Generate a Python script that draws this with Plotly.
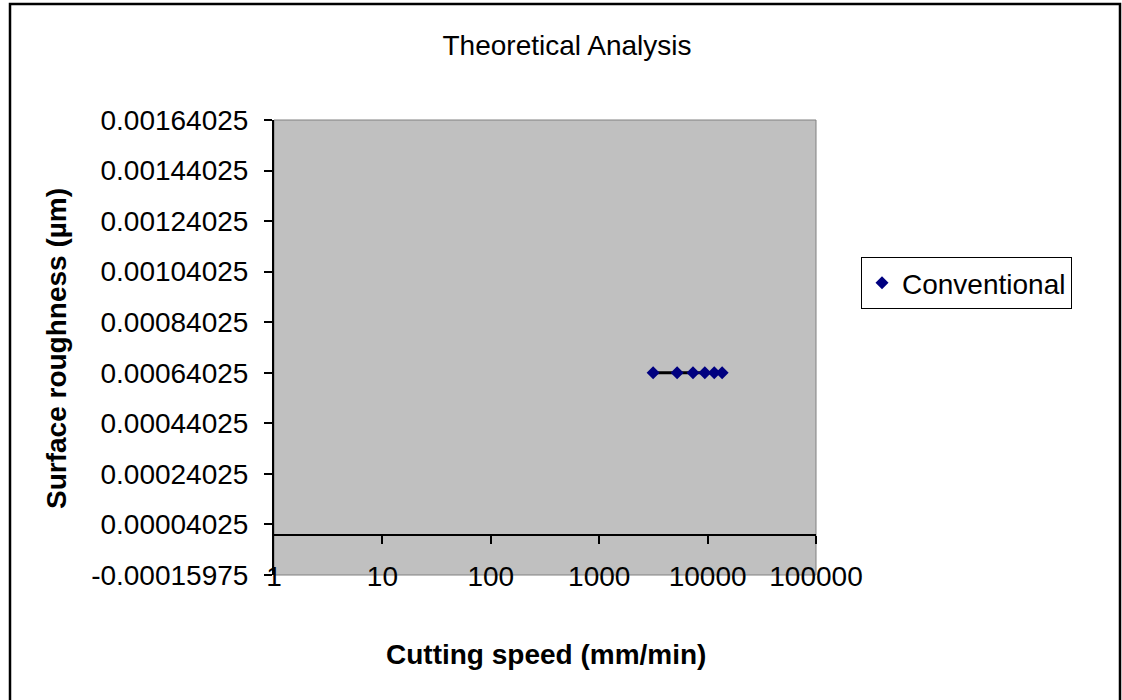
import plotly.graph_objects as go

# ---- data ----
cutting_speed = [3142, 5236, 7330, 9425, 11519, 13614]
roughness = [0.00064025, 0.00064025, 0.00064025, 0.00064025, 0.00064025, 0.00064025]
series_name = "Conventional"

y_tickvals = [-0.00015975, 0.00004025, 0.00024025, 0.00044025, 0.00064025,
              0.00084025, 0.00104025, 0.00124025, 0.00144025, 0.00164025]
y_ticktext = ["-0.00015975", "0.00004025", "0.00024025", "0.00044025", "0.00064025",
              "0.00084025", "0.00104025", "0.00124025", "0.00144025", "0.00164025"]
x_tickvals = [1, 10, 100, 1000, 10000, 100000]
x_ticktext = ["1", "10", "100", "1000", "10000", "100000"]

title_text = "Theoretical Analysis"
x_title = "Cutting speed (mm/min)"
y_title = "Surface roughness (µm)"

# ---- layout geometry (pixels) ----
W, H = 1122, 700
L, R, T, B = 274, 816, 120, 575
pw, ph = R - L, B - T
FONT = "Liberation Sans, Arial, sans-serif"
FS = 28

y_min, y_max = y_tickvals[0], y_tickvals[-1]
zero_pos = (0 - y_min) / (y_max - y_min)

def px_x(p):
    return (p - L) / pw

def px_y(p):
    return (B - p) / ph

fig = go.Figure()

fig.add_trace(go.Scatter(
    x=cutting_speed, y=roughness, mode="lines",
    line=dict(color="black", width=3), showlegend=False, hoverinfo="skip"))
fig.add_trace(go.Scatter(
    x=cutting_speed, y=roughness, mode="markers", name=series_name,
    marker=dict(symbol="diamond", color="#000080", size=10,
                line=dict(width=0))))
# invisible helper trace so the zero-line tick axis renders
fig.add_trace(go.Scatter(
    x=cutting_speed, y=roughness, mode="markers", xaxis="x2",
    marker=dict(opacity=0), showlegend=False, hoverinfo="skip"))

fig.update_layout(
    width=W, height=H,
    margin=dict(l=L, r=W - R, t=T, b=H - B, pad=0),
    paper_bgcolor="white",
    plot_bgcolor="#C0C0C0",
    font=dict(family=FONT, size=FS, color="black"),
    title=dict(text=title_text, x=567 / W, xref="container", xanchor="center",
               y=1 - 45 / H, yref="container", yanchor="middle",
               font=dict(family=FONT, size=FS, color="black")),
    xaxis=dict(
        type="log", range=[0, 5], anchor="free", position=px_y(557),
        tickvals=x_tickvals, ticktext=x_ticktext, ticks="",
        showline=False, showgrid=False, zeroline=False,
        tickfont=dict(family=FONT, size=FS, color="black")),
    xaxis2=dict(
        type="log", range=[0, 5], overlaying="x", matches="x",
        anchor="free", position=zero_pos, side="bottom",
        tickvals=x_tickvals[1:], ticks="outside", ticklen=8, tickwidth=2,
        tickcolor="black", showticklabels=False,
        showline=False, showgrid=False, zeroline=False),
    yaxis=dict(
        range=[y_min, y_max], tickvals=y_tickvals, ticktext=y_ticktext,
        ticks="outside", ticklen=8, tickwidth=1.5, tickcolor="black",
        showline=True, linecolor="black", linewidth=2,
        showgrid=False, zeroline=True, zerolinecolor="black", zerolinewidth=2,
        ticklabelstandoff=10,
        tickfont=dict(family=FONT, size=FS, color="black")),
    legend=dict(
        x=px_x(861), y=px_y(257), xanchor="left", yanchor="top",
        bgcolor="white", bordercolor="black", borderwidth=1,
        font=dict(family=FONT, size=FS, color="black")),
    shapes=[
        dict(type="rect", xref="x domain", yref="y domain", x0=0, x1=1, y0=0, y1=1,
             line=dict(color="#808080", width=1), layer="below"),
        dict(type="rect", xref="paper", yref="paper",
             x0=px_x(10), x1=px_x(1120), y0=px_y(705), y1=px_y(4),
             line=dict(color="black", width=2.5), fillcolor="rgba(0,0,0,0)"),
    ],
    annotations=[
        dict(text="<b>" + x_title + "</b>", xref="paper", yref="paper",
             x=px_x(546), y=px_y(654), xanchor="center", yanchor="middle",
             showarrow=False, font=dict(family=FONT, size=FS, color="black")),
        dict(text="<b>" + y_title + "</b>", xref="paper", yref="paper",
             x=px_x(56), y=px_y(349), xanchor="center", yanchor="middle",
             textangle=-90, showarrow=False,
             font=dict(family=FONT, size=FS, color="black")),
    ],
)

fig.write_html("out.html")
